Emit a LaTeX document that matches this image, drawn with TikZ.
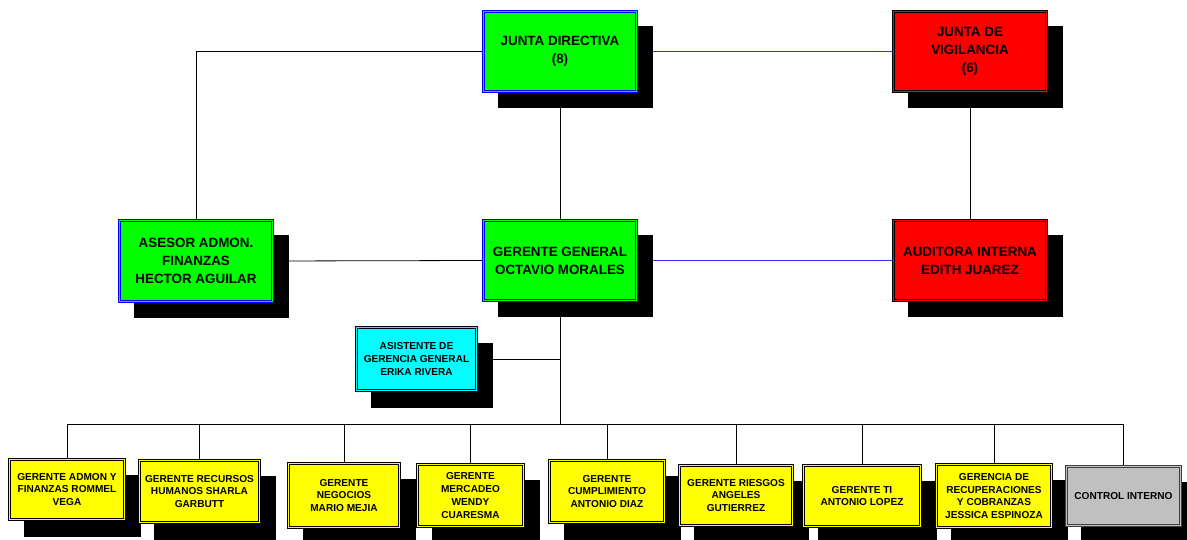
\documentclass[tikz,border=0pt]{standalone}
\usepackage{fontspec}
\setmainfont{Liberation Sans}
\usetikzlibrary{shadows,backgrounds}
\definecolor{cgreen}{HTML}{00FF00}
\definecolor{cblue}{HTML}{0000FF}
\definecolor{lblue}{HTML}{2B2BFF}
\definecolor{cred}{HTML}{FF0000}
\definecolor{cyel}{HTML}{FFFF00}
\definecolor{ccyan}{HTML}{00FFFF}
\definecolor{cgray}{HTML}{C0C0C0}
\definecolor{dgray}{HTML}{404040}
\tikzset{
  box/.style={rectangle, inner sep=0pt, align=center, line width=0.9pt,
    drop shadow={shadow xshift=15pt, shadow yshift=-16pt, fill=black, opacity=1},
    path picture={\draw[line width=0.9pt, draw=#1]
      ([shift={(2.3pt,-2.3pt)}]path picture bounding box.north west) rectangle
      ([shift={(-2.3pt,2.3pt)}]path picture bounding box.south east);}},
  bigtxt/.style={font=\fontsize{13.4}{18}\selectfont\bfseries},
  smalltxt/.style={font=\fontsize{10.1}{12.7}\selectfont\bfseries},
  gbox/.style={box=cblue, bigtxt, fill=cgreen, draw=cblue},
  rbox/.style={box=black, bigtxt, fill=cred, draw=black},
  cbox/.style={box=black, smalltxt, fill=ccyan, draw=black},
  ybox/.style={box=black, smalltxt, fill=cyel, draw=black},
  kbox/.style={box=dgray, smalltxt, fill=cgray, draw=dgray},
  conn/.style={draw=black, line width=0.8pt},
  bconn/.style={draw=lblue, line width=0.8pt},
}
\begin{document}
\begin{tikzpicture}[x=1pt,y=-1pt]
\useasboundingbox (0,0) rectangle (1187,540);
\node[gbox, minimum width=155pt, minimum height=82pt] (jd) at (560,51.5) {JUNTA DIRECTIVA\\(8)};
\node[rbox, minimum width=155pt, minimum height=82pt] (jv) at (970,51.5) {JUNTA DE\\VIGILANCIA\\(6)};
\node[gbox, minimum width=155pt, minimum height=83pt] (ase) at (196,261) {ASESOR ADMON.\\FINANZAS\\HECTOR AGUILAR};
\node[gbox, minimum width=155pt, minimum height=82pt] (gg) at (560,260.5) {GERENTE GENERAL\\OCTAVIO MORALES};
\node[rbox, minimum width=155pt, minimum height=82pt] (aud) at (970,260.5) {AUDITORA INTERNA\\EDITH JUAREZ};
\node[cbox, minimum width=122pt, minimum height=65pt] (asi) at (416.5,359) {ASISTENTE DE\\GERENCIA GENERAL\\ERIKA RIVERA};
\node[ybox, minimum width=117pt, minimum height=62pt] (b1) at (67,489.5) {GERENTE ADMON Y\\FINANZAS ROMMEL\\VEGA};
\node[ybox, minimum width=122pt, minimum height=64pt] (b2) at (199.5,491.5) {GERENTE RECURSOS\\HUMANOS SHARLA\\GARBUTT};
\node[ybox, minimum width=113pt, minimum height=66pt] (b3) at (344,495.5) {GERENTE\\NEGOCIOS\\MARIO MEJIA};
\node[ybox, minimum width=108pt, minimum height=64pt] (b4) at (470.5,495.5) {GERENTE\\MERCADEO\\WENDY\\CUARESMA};
\node[ybox, minimum width=117pt, minimum height=64pt] (b5) at (607,491.5) {GERENTE\\CUMPLIMIENTO\\ANTONIO DIAZ};
\node[ybox, minimum width=115pt, minimum height=62pt] (b6) at (736,495.5) {GERENTE RIESGOS\\ANGELES\\GUTIERREZ};
\node[ybox, minimum width=119pt, minimum height=63pt] (b7) at (862,496) {GERENTE TI\\ANTONIO LOPEZ};
\node[ybox, minimum width=117pt, minimum height=65pt] (b8) at (994,496) {GERENCIA DE\\RECUPERACIONES\\Y COBRANZAS\\JESSICA ESPINOZA};
\node[kbox, minimum width=116pt, minimum height=61pt] (b9) at (1123.5,496) {CONTROL INTERNO};
\coordinate (bus) at (560,424);
\begin{pgfonlayer}{background}
\fill[white] (0,0) rectangle (1187,540);
\draw[conn] (jd.west) -| (ase.north);
\draw[bconn] (jd.east) -- (jv.west);
\draw[conn] (jd.south) -- (gg.north);
\draw[conn] (jv.south) -- (aud.north);
\draw[conn] (ase.east) -- (gg.west);
\draw[bconn] (gg.east) -- (aud.west);
\draw[conn] (gg.south) -- (bus);
\draw[conn] (asi.east) -- (asi.east -| gg.south);
\draw[conn] (b1.north |- bus) -- (b9.north |- bus);
\foreach \b in {b1,b2,b3,b4,b5,b6,b7,b8,b9}{
  \draw[conn] (\b.north) -- (\b.north |- bus);
}
\end{pgfonlayer}
\end{tikzpicture}
\end{document}
